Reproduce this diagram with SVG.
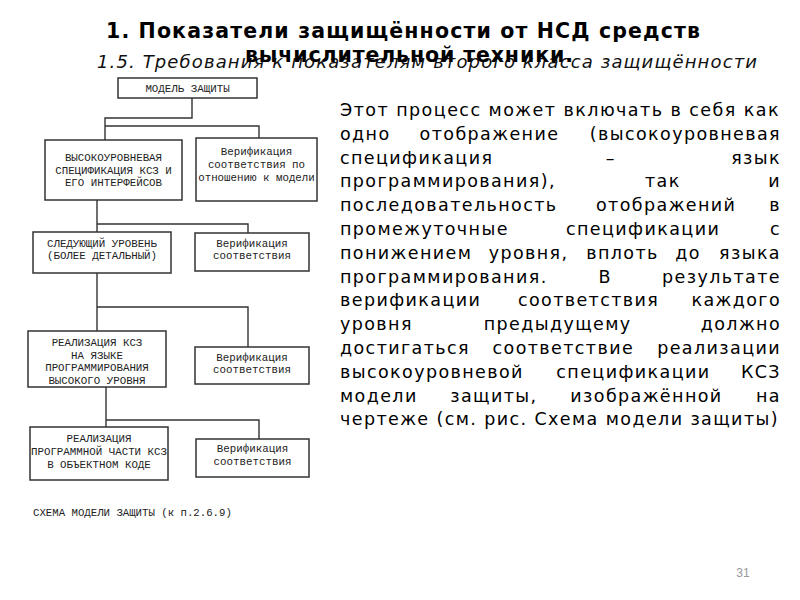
<svg xmlns="http://www.w3.org/2000/svg" width="800" height="600" viewBox="0 0 800 600">
<style>
.ttl{font-family:"DejaVu Sans",sans-serif;font-weight:bold;font-size:20.5px;fill:#000}
.sub{font-family:"DejaVu Sans",sans-serif;font-style:italic;font-size:18px;fill:#111}
.body{font-family:"DejaVu Sans",sans-serif;font-size:17.5px;letter-spacing:1.4px;fill:#000}
.box{fill:#fff;stroke:#333;stroke-width:1.5}
.mono{font-family:"Liberation Mono",monospace;font-size:10.8px;fill:#222;text-anchor:middle}
.cap{font-family:"Liberation Mono",monospace;font-size:10.7px;fill:#222}
.conn{fill:none;stroke:#333;stroke-width:1.4}
.e{text-anchor:end}
</style>
<rect width="800" height="600" fill="#fff"/>
<g id="title">
<text class="ttl" x="106" y="38" textLength="594" lengthAdjust="spacing">1. Показатели защищённости от НСД средств</text>
<text class="sub" x="97" y="68" textLength="660" lengthAdjust="spacing">1.5. Требования к показателям второго класса защищённости</text>
<text class="ttl" x="245" y="62" font-size="20" textLength="328" lengthAdjust="spacing">вычислительной техники.</text>
</g>
<g id="connectors">
<polyline class="conn" points="192,98 192,118 105,118 105,140"/>
<polyline class="conn" points="105,126 259,126 259,138"/>
<line class="conn" x1="97" y1="200" x2="97" y2="232"/>
<polyline class="conn" points="97,224 248,224 248,233"/>
<line class="conn" x1="97" y1="273" x2="97" y2="331"/>
<polyline class="conn" points="97,307 248,307 248,347"/>
<line class="conn" x1="106" y1="387" x2="106" y2="427"/>
<polyline class="conn" points="106,420 259,420 259,439"/>
</g>
<g id="model">
<rect class="box" x="118" y="78" width="139" height="20"/>
<text class="mono" x="187.5" y="91.5">МОДЕЛЬ ЗАЩИТЫ</text>
</g>
<g id="spec">
<rect class="box" x="45" y="140" width="137" height="60"/>
<text class="mono" x="113.5" y="160.5">ВЫСОКОУРОВНЕВАЯ</text>
<text class="mono" x="113.5" y="173.5">СПЕЦИФИКАЦИЯ КСЗ И</text>
<text class="mono" x="113.5" y="185.5">ЕГО ИНТЕРФЕЙСОВ</text>
</g>
<g id="ver1">
<rect class="box" x="196" y="138" width="121" height="63"/>
<text class="mono" x="256.5" y="154.5">Верификация</text>
<text class="mono" x="256.5" y="167.5">соответствия по</text>
<text class="mono" x="256.5" y="180.5">отношению к модели</text>
</g>
<g id="next">
<rect class="box" x="33" y="232" width="138" height="41"/>
<text class="mono" x="102" y="246.5">СЛЕДУЮЩИЙ УРОВЕНЬ</text>
<text class="mono" x="102" y="258.5">(БОЛЕЕ ДЕТАЛЬНЫЙ)</text>
</g>
<g id="ver2">
<rect class="box" x="195" y="233" width="114" height="38"/>
<text class="mono" x="252" y="246.5">Верификация</text>
<text class="mono" x="252" y="258.5">соответствия</text>
</g>
<g id="impl">
<rect class="box" x="28" y="331" width="138" height="56"/>
<text class="mono" x="97" y="345.5">РЕАЛИЗАЦИЯ КСЗ</text>
<text class="mono" x="97" y="358.5">НА ЯЗЫКЕ</text>
<text class="mono" x="97" y="370.5">ПРОГРАММИРОВАНИЯ</text>
<text class="mono" x="97" y="383.5">ВЫСОКОГО УРОВНЯ</text>
</g>
<g id="ver3">
<rect class="box" x="195" y="347" width="114" height="37"/>
<text class="mono" x="252" y="360.5">Верификация</text>
<text class="mono" x="252" y="372.5">соответствия</text>
</g>
<g id="obj">
<rect class="box" x="30" y="427" width="138" height="53"/>
<text class="mono" x="99" y="441.5">РЕАЛИЗАЦИЯ</text>
<text class="mono" x="99" y="454.5">ПРОГРАММНОЙ ЧАСТИ КСЗ</text>
<text class="mono" x="99" y="467.5">В ОБЪЕКТНОМ КОДЕ</text>
</g>
<g id="ver4">
<rect class="box" x="196" y="439" width="113" height="38"/>
<text class="mono" x="252.5" y="451.5">Верификация</text>
<text class="mono" x="252.5" y="464.5">соответствия</text>
</g>
<text class="cap" x="33" y="516">СХЕМА МОДЕЛИ ЗАЩИТЫ (к п.2.6.9)</text>
<g id="body" class="body">
<text x="340" y="116" textLength="440" lengthAdjust="spacing">Этот процесс может включать в себя как</text>
<text x="340" y="139.8">одно</text><text x="419.6" y="139.8">отображение</text><text class="e" x="781" y="139.8">(высокоуровневая</text>
<text x="340" y="163.6">спецификация</text><text x="605.8" y="163.6">–</text><text class="e" x="781" y="163.6">язык</text>
<text x="340" y="187.4">программирования),</text><text x="645" y="187.4">так</text><text class="e" x="781" y="187.4">и</text>
<text x="340" y="211.2">последовательность</text><text x="596" y="211.2">отображений</text><text class="e" x="781" y="211.2">в</text>
<text x="340" y="235">промежуточные</text><text x="566" y="235">спецификации</text><text class="e" x="781" y="235">с</text>
<text x="340" y="258.8">понижением</text><text x="488.7" y="258.8">уровня,</text><text x="586.2" y="258.8">вплоть</text><text x="675.2" y="258.8">до</text><text class="e" x="781" y="258.8">языка</text>
<text x="340" y="282.6">программирования.</text><text x="598.4" y="282.6">В</text><text class="e" x="781" y="282.6">результате</text>
<text x="340" y="306.4">верификации</text><text x="517.9" y="306.4">соответствия</text><text class="e" x="781" y="306.4">каждого</text>
<text x="340" y="330.2">уровня</text><text x="483.7" y="330.2">предыдущему</text><text class="e" x="781" y="330.2">должно</text>
<text x="340" y="354">достигаться</text><text x="492.5" y="354">соответствие</text><text class="e" x="781" y="354">реализации</text>
<text x="340" y="377.8">высокоуровневой</text><text x="556.3" y="377.8">спецификации</text><text class="e" x="781" y="377.8">КСЗ</text>
<text x="340" y="401.6">модели</text><text x="450.2" y="401.6">защиты,</text><text x="570.3" y="401.6">изображённой</text><text class="e" x="781" y="401.6">на</text>
<text x="340" y="425.4">чертеже (см. рис. Схема модели защиты)</text>
</g>
<text x="743" y="577" font-family="Liberation Sans, sans-serif" font-size="12" fill="#999" text-anchor="middle">31</text>
</svg>
